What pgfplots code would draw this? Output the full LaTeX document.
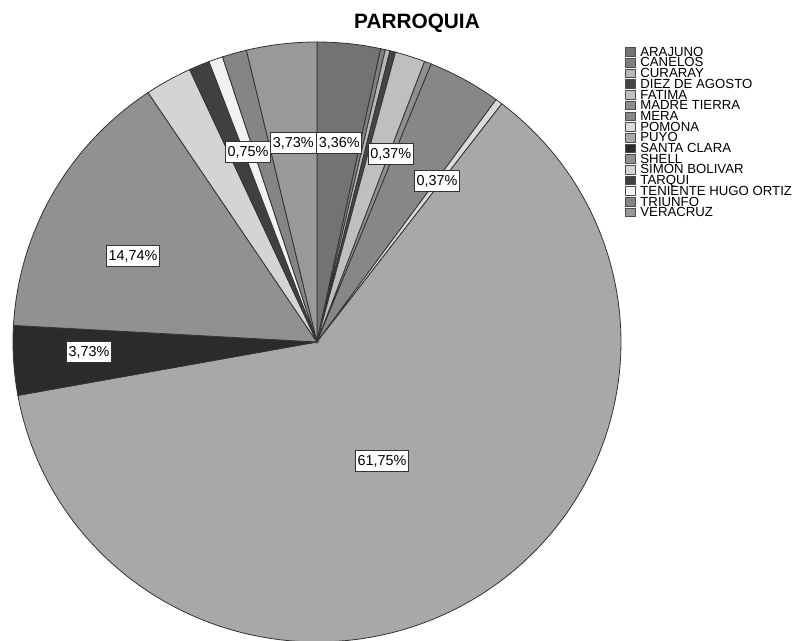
\documentclass[border=0pt]{standalone}
\usepackage{pgfplots}
\pgfplotsset{compat=1.18}
\usepackage{pgfplotstable}
\usepackage{fontspec}
\setmainfont{Liberation Sans}

\definecolor{c0}{gray}{0.45}
\definecolor{c1}{gray}{0.50}
\definecolor{c2}{gray}{0.72}
\definecolor{c3}{gray}{0.27}
\definecolor{c4}{gray}{0.75}
\definecolor{c5}{gray}{0.56}
\definecolor{c6}{gray}{0.53}
\definecolor{c7}{gray}{0.86}
\definecolor{c8}{gray}{0.66}
\definecolor{c9}{gray}{0.17}
\definecolor{c10}{gray}{0.57}
\definecolor{c11}{gray}{0.83}
\definecolor{c12}{gray}{0.25}
\definecolor{c13}{gray}{0.95}
\definecolor{c14}{gray}{0.52}
\definecolor{c15}{gray}{0.60}

\pgfplotstableread[col sep=comma]{
name,value
ARAJUNO,3.36
CANELOS,0.25
CURARAY,0.25
DIEZ DE AGOSTO,0.30
FATIMA,1.60
MADRE TIERRA,0.37
MERA,3.90
POMONA,0.37
PUYO,61.75
SANTA CLARA,3.73
SHELL,14.74
SIMON BOLIVAR,2.50
TARQUI,1.10
TENIENTE HUGO ORTIZ,0.75
TRIUNFO,1.30
VERACRUZ,3.73
}\parroquia

\pgfplotstableread{
x y lab
0.073 0.663 3,36\%
-0.078 0.663 3,73\%
-0.227 0.633 0,75\%
0.243 0.627 0,37\%
0.395 0.537 0,37\%
-0.605 0.287 14,74\%
-0.750 -0.033 3,73\%
0.214 -0.397 61,75\%
}\labels

\begin{document}
\begin{tikzpicture}[x=1pt,y=1pt]
\path[use as bounding box] (0,0) rectangle (397,320.5);
\node[font=\bfseries\fontsize{10.4}{10.4}\selectfont] at (208.5,309) {PARROQUIA};
\begin{axis}[
  at={(6.5pt,-0.5pt)}, anchor=south west,
  scale only axis, width=304pt, height=300pt,
  xmin=-1, xmax=1, ymin=-1, ymax=1,
  hide axis, clip=false,
  legend style={at={(1.0066,0.992)}, anchor=north west, draw=none, fill=none,
    inner sep=0pt, outer sep=0pt, font=\fontsize{6.6}{6.6}\selectfont, row sep=0pt,
    nodes={inner sep=0.15pt, text height=4.6pt, text depth=0.45pt},
    /tikz/every odd column/.append style={column sep=2.2pt}},
  legend cell align=left,
  legend image code/.code={\draw[#1, draw=black!70, line width=0.35pt] (0pt,-2.1pt) rectangle (5pt,2.2pt);},
]
\def\cum{0}
\pgfplotsforeachungrouped \i in {0,...,15}{%
  \pgfplotstablegetelem{\i}{value}\of\parroquia \let\v\pgfplotsretval
  \pgfplotstablegetelem{\i}{name}\of\parroquia \let\nm\pgfplotsretval
  \pgfmathsetmacro\a{90-3.6*(\cum+\v)}%
  \pgfmathsetmacro\b{90-3.6*\cum}%
  \pgfmathtruncatemacro\ns{max(3,2*\v+3)}%
  \pgfmathsetmacro\cum{\cum+\v}%
  \edef\doplot{\noexpand\addplot[fill=c\i, draw=black!80, line width=0.4pt, domain=\a:\b, samples=\ns, variable=\noexpand\t] ({cos(\noexpand\t)},{sin(\noexpand\t)}) -- (axis cs:0,0) -- cycle;
  \noexpand\addlegendentry{\nm}}%
  \doplot
}
\addplot[forget plot, draw=none, mark=none, nodes near coords, point meta=explicit symbolic,
  every node near coord/.style={fill=white, draw=black!80, line width=0.4pt,
    font=\fontsize{7.2}{7.2}\selectfont, inner xsep=1.1pt, inner ysep=2.2pt,
    text height=5.2pt, text depth=0.8pt, anchor=center}]
  table[x=x, y=y, meta=lab] {\labels};
\end{axis}
\end{tikzpicture}
\end{document}
